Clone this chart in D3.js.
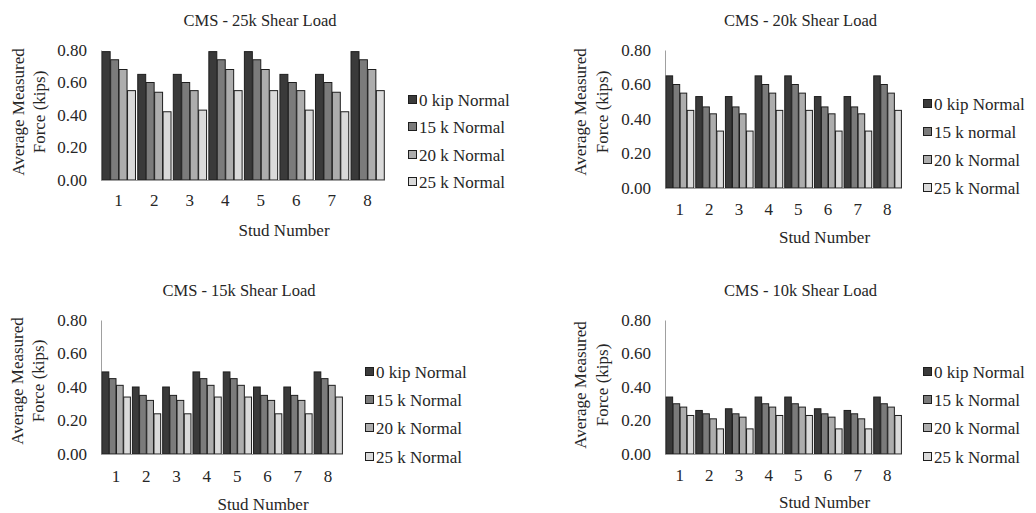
<!DOCTYPE html>
<html>
<head>
<meta charset="utf-8">
<script src="https://cdn.jsdelivr.net/npm/d3@7"></script>
</head>
<body style="margin:0">
<svg id="chart" width="1036" height="513" style="font-family: 'Liberation Serif', serif"></svg>
<script>
// stud numbers on the x axis
var studs = ["1", "2", "3", "4", "5", "6", "7", "8"];
var yTicks = [0, 0.2, 0.4, 0.6, 0.8];
var seriesColors = ["#3a3a3a", "#7b7b7b", "#adadad", "#dadada"];

var titles = ["CMS - 25k Shear Load", "CMS - 20k Shear Load", "CMS - 15k Shear Load", "CMS - 10k Shear Load"];
var legendLabels = [
  ["0 kip Normal", "15 k Normal", "20 k Normal", "25 k Normal"],
  ["0 kip Normal", "15 k normal", "20 k Normal", "25 k Normal"],
  ["0 kip Normal", "15 k Normal", "20 k Normal", "25 k Normal"],
  ["0 kip Normal", "15 k Normal", "20 k Normal", "25 k Normal"]
];

// 25k shear load
var shear25 = [
  [0.79, 0.65, 0.65, 0.79, 0.79, 0.65, 0.65, 0.79],
  [0.74, 0.60, 0.60, 0.74, 0.74, 0.60, 0.60, 0.74],
  [0.68, 0.54, 0.55, 0.68, 0.68, 0.55, 0.54, 0.68],
  [0.55, 0.42, 0.43, 0.55, 0.55, 0.43, 0.42, 0.55]
];
// 20k shear load
var shear20 = [
  [0.65, 0.53, 0.53, 0.65, 0.65, 0.53, 0.53, 0.65],
  [0.60, 0.47, 0.47, 0.60, 0.60, 0.47, 0.47, 0.60],
  [0.55, 0.43, 0.43, 0.55, 0.55, 0.43, 0.43, 0.55],
  [0.45, 0.33, 0.33, 0.45, 0.45, 0.33, 0.33, 0.45]
];
// 15k shear load
var shear15 = [
  [0.49, 0.40, 0.40, 0.49, 0.49, 0.40, 0.40, 0.49],
  [0.45, 0.35, 0.35, 0.45, 0.45, 0.35, 0.35, 0.45],
  [0.41, 0.32, 0.32, 0.41, 0.41, 0.32, 0.32, 0.41],
  [0.34, 0.24, 0.24, 0.34, 0.34, 0.24, 0.24, 0.34]
];
// 10k shear load
var shear10 = [
  [0.34, 0.26, 0.27, 0.34, 0.34, 0.27, 0.26, 0.34],
  [0.30, 0.24, 0.24, 0.30, 0.30, 0.24, 0.24, 0.30],
  [0.28, 0.21, 0.22, 0.28, 0.28, 0.22, 0.21, 0.28],
  [0.23, 0.15, 0.15, 0.23, 0.23, 0.15, 0.15, 0.23]
];

var panelData = [shear25, shear20, shear15, shear10];

// plot boxes for each panel (page pixels)
var layout = [
  { x0: 101, x1: 385, y0: 50, y1: 180, titleY: 26, tickY: 206, xTitleY: 236, yt1: 18, yt2: 39, ytY: 112, legX: 408, legY: [100, 127, 155, 182] },
  { x0: 665, x1: 902, y0: 50, y1: 188, titleY: 26, tickY: 215, xTitleY: 243, yt1: 580, yt2: 602, ytY: 112, legX: 923, legY: [104, 132, 160, 188] },
  { x0: 101, x1: 343, y0: 320, y1: 454, titleY: 296, tickY: 482, xTitleY: 510, yt1: 17, yt2: 38, ytY: 381, legX: 365, legY: [372, 400, 428, 457] },
  { x0: 665, x1: 902, y0: 320, y1: 454, titleY: 296, tickY: 481, xTitleY: 508, yt1: 580, yt2: 602, ytY: 385, legX: 923, legY: [372, 400, 428, 457] }
];

var fontName = "Liberation Serif";
var ink = "#262626";
var svg = d3.select("#chart");

function label(sel, size) {
  return sel.attr("font-family", fontName)
    .attr("font-size", size || 17)
    .attr("fill", ink);
}

layout.forEach(function(L, p) {
  var g = svg.append("g");
  var data = panelData[p];

  var x = d3.scaleBand().domain(studs).range([L.x0, L.x1]).paddingInner(0.05).paddingOuter(0.02);
  var xs = d3.scaleBand().domain(d3.range(4)).range([0, x.bandwidth()]);
  var y = d3.scaleLinear().domain([0, 0.8]).range([L.y1, L.y0]);
  var mid = (L.x0 + L.x1) / 2;

  label(g.append("text"), 16.5)
    .attr("x", mid + 17)
    .attr("y", L.titleY)
    .attr("text-anchor", "middle")
    .text(titles[p]);

  // y tick labels from the scale, no tick marks
  var yAxis = d3.axisLeft(y).tickValues(yTicks).tickSize(0).tickPadding(14).tickFormat(d3.format(".2f"));
  var ya = g.append("g").attr("transform", "translate(" + L.x0 + ",0)").call(yAxis);
  ya.attr("font-family", fontName).attr("font-size", 17);
  ya.select(".domain").attr("stroke", "#a0a0a0");
  label(ya.selectAll("text"));

  // bars
  data.forEach(function(series, s) {
    g.selectAll(null).data(series).enter().append("rect")
      .attr("x", function(d, i) { return x(studs[i]) + xs(s) + 0.5; })
      .attr("y", function(d) { return y(d); })
      .attr("width", xs.bandwidth() - 0.5)
      .attr("height", function(d) { return y(0) - y(d); })
      .attr("fill", seriesColors[s])
      .attr("stroke", "#1e1e1e")
      .attr("stroke-width", 1);
  });

  // baseline
  g.append("line")
    .attr("x1", L.x0).attr("x2", L.x1)
    .attr("y1", y(0) + 0.5).attr("y2", y(0) + 0.5)
    .attr("stroke", "#a0a0a0");

  // x tick labels
  label(g.selectAll(null).data(studs).enter().append("text"))
    .attr("x", function(d) { return x(d) + x.bandwidth() / 2; })
    .attr("y", L.tickY)
    .attr("text-anchor", "middle")
    .text(function(d) { return d; });

  label(g.append("text"))
    .attr("x", mid + 41)
    .attr("y", L.xTitleY)
    .attr("text-anchor", "middle")
    .text("Stud Number");

  // y title in two lines
  [["Average Measured", L.yt1], ["Force (kips)", L.yt2]].forEach(function(t) {
    label(g.append("text"))
      .attr("transform", "translate(" + (t[1] + 6) + "," + L.ytY + ") rotate(-90)")
      .attr("text-anchor", "middle")
      .text(t[0]);
  });

  // legend
  legendLabels[p].forEach(function(lbl, s) {
    var ly = L.legY[s];
    g.append("rect")
      .attr("x", L.legX + 0.5).attr("y", ly - 4.5)
      .attr("width", 8).attr("height", 8)
      .attr("fill", seriesColors[s])
      .attr("stroke", "#1e1e1e");
    label(g.append("text"))
      .attr("x", L.legX + 11)
      .attr("y", ly + 6)
      .text(lbl);
  });
});
</script>
</body>
</html>
